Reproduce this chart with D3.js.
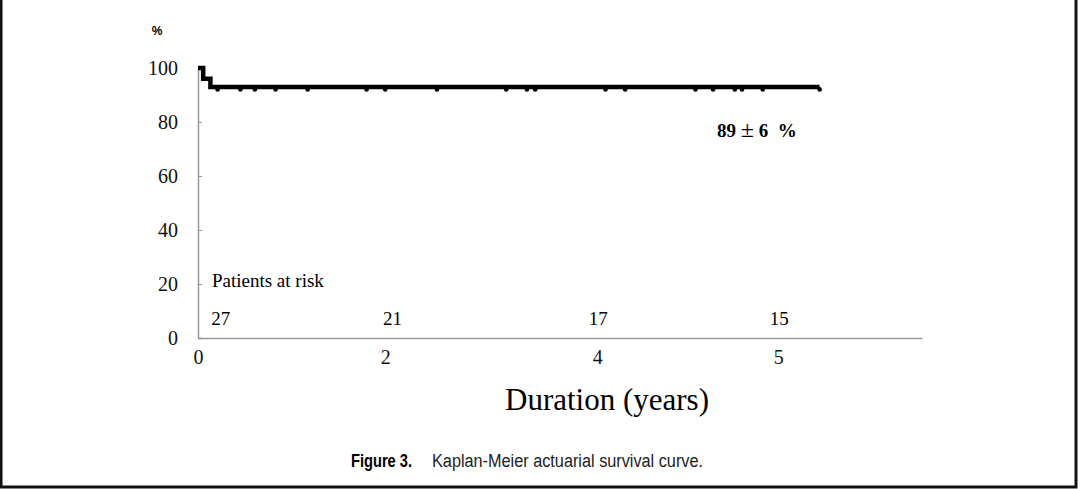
<!DOCTYPE html>
<html>
<head>
<meta charset="utf-8">
<script src="https://cdn.jsdelivr.net/npm/d3@7"></script>
<style>
  html, body { margin: 0; padding: 0; background: #fff; }
  svg { display: block; }
</style>
</head>
<body>
<svg id="chart"></svg>
<script>
// survival curve (axis units along x, percent along y)
const stepTimes = [0, 0.05, 0.12, 6.01];
const stepValues = [100, 96, 93, 93];
// censored patients (axis units)
const censorTimes = [0.19, 0.41, 0.55, 0.75, 1.06, 1.63, 1.81, 2.31, 2.98, 3.18, 3.26,
  3.94, 4.13, 4.81, 4.98, 5.19, 5.26, 5.46, 6.01];
// x ticks: position on the axis and printed label
const xTickPos = [0, 1.81, 3.86, 5.61];
const xTickLabels = ["0", "2", "4", "5"];
const yTicks = [0, 20, 40, 60, 80, 100];
// patients at risk row
const riskPos = [0.22, 1.88, 3.87, 5.62];
const riskCounts = [27, 21, 17, 15];

const W = 1080, H = 489;
const m = { left: 198, top: 68, right: 158, bottom: 150 };

const svg = d3.select("#chart").attr("width", W).attr("height", H);

const x = d3.scaleLinear().domain([0, 7]).range([m.left, W - m.right]);
const y = d3.scaleLinear().domain([0, 100]).range([H - m.bottom - 1, m.top]);

const serif = "'Liberation Serif', 'Times New Roman', serif";
const narrow = "'Liberation Sans Narrow', 'Liberation Sans', Arial, sans-serif";

// frame
svg.append("rect")
  .attr("x", 1).attr("y", -5)
  .attr("width", 1075).attr("height", 492)
  .attr("fill", "none").attr("stroke", "#111").attr("stroke-width", 3);

// y axis
const yAxis = svg.append("g")
  .attr("transform", `translate(${m.left},0)`)
  .call(d3.axisLeft(y).tickValues(yTicks).tickSize(-4).tickPadding(20));
yAxis.select(".domain").attr("stroke", "#999").attr("stroke-width", 1.5);
yAxis.selectAll(".tick line").attr("stroke", "#999");
yAxis.selectAll(".tick text")
  .attr("font-family", serif).attr("font-size", 20).attr("fill", "#111");
yAxis.selectAll(".tick").filter(d => d === 0 || d === 100).select("line").remove();

// x axis
const xAxis = svg.append("g")
  .attr("transform", `translate(0,${y(0)})`)
  .call(d3.axisBottom(x).tickValues(xTickPos).tickSize(0).tickPadding(12)
    .tickFormat((d, i) => xTickLabels[i]));
xAxis.select(".domain").attr("stroke", "#999").attr("stroke-width", 1.5);
xAxis.selectAll(".tick text")
  .attr("font-family", serif).attr("font-size", 20).attr("fill", "#111");

// survival curve
const line = d3.line()
  .x((d, i) => x(stepTimes[i]))
  .y(d => y(d))
  .curve(d3.curveStepAfter);
svg.append("path")
  .datum(stepValues)
  .attr("d", line)
  .attr("fill", "none")
  .attr("stroke", "#000")
  .attr("stroke-width", 4.5)
  .attr("stroke-linejoin", "miter");

// censor marks
svg.selectAll("circle.censor")
  .data(censorTimes)
  .enter().append("circle")
  .attr("class", "censor")
  .attr("cx", d => x(d))
  .attr("cy", y(93) + 2.5)
  .attr("r", 2.3)
  .attr("fill", "#000");

// % label
svg.append("text")
  .attr("x", 157).attr("y", 35)
  .attr("text-anchor", "middle")
  .attr("font-family", "'Liberation Sans', Arial, sans-serif")
  .attr("font-weight", "bold").attr("font-size", 12)
  .text("%");

// survival estimate
const est = svg.append("text")
  .attr("x", 717).attr("y", 137)
  .attr("font-family", serif).attr("font-weight", "bold").attr("font-size", 19)
  .attr("xml:space", "preserve");
est.append("tspan").text("89 ");
est.append("tspan").attr("font-size", 24).attr("font-weight", "normal").text("\u00b1");
est.append("tspan").text(" 6  %");

// patients at risk
svg.append("text")
  .attr("x", x(0.135)).attr("y", 287)
  .attr("font-family", serif).attr("font-size", 19)
  .text("Patients at risk");
svg.selectAll("text.risk")
  .data(riskCounts)
  .enter().append("text")
  .attr("class", "risk")
  .attr("x", (d, i) => x(riskPos[i]))
  .attr("y", 325)
  .attr("text-anchor", "middle")
  .attr("font-family", serif).attr("font-size", 19)
  .text(d => d);

// axis title
svg.append("text")
  .attr("x", 607).attr("y", 410)
  .attr("text-anchor", "middle")
  .attr("font-family", serif).attr("font-size", 31)
  .text("Duration (years)");

// caption
svg.append("text")
  .attr("x", 351).attr("y", 467)
  .attr("font-family", narrow)
  .attr("font-weight", "bold").attr("font-size", 18)
  .attr("textLength", 61).attr("lengthAdjust", "spacingAndGlyphs")
  .text("Figure 3.");
svg.append("text")
  .attr("x", 432).attr("y", 467)
  .attr("font-family", narrow)
  .attr("font-size", 18).attr("fill", "#222")
  .attr("textLength", 271).attr("lengthAdjust", "spacingAndGlyphs")
  .text("Kaplan-Meier actuarial survival curve.");
</script>
</body>
</html>
